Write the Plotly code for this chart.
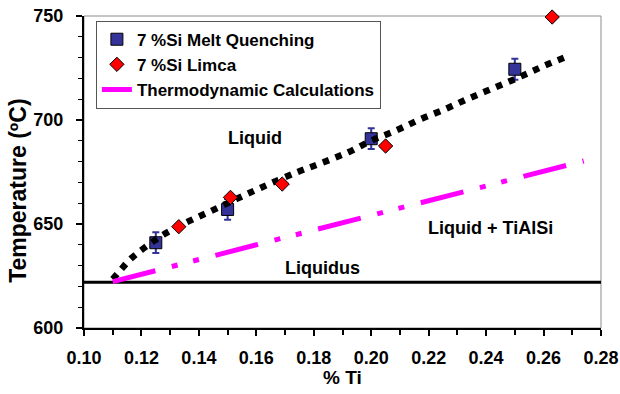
import plotly.graph_objects as go

# Melt quenching (blue squares with error bars)
mq_ti = [0.125, 0.150, 0.200, 0.250]
mq_temp = [641, 657, 691, 724.4]
mq_err = [5, 5, 5, 5]

# Limca (red diamonds)
lim_ti = [0.133, 0.151, 0.169, 0.205, 0.263]
lim_temp = [648.7, 662.8, 669.2, 687.5, 749.5]

trend_ti = [0.110, 0.113, 0.116, 0.120, 0.124, 0.128, 0.136, 0.144, 0.153, 0.162,
            0.174, 0.183, 0.192, 0.200, 0.209, 0.217, 0.226, 0.234, 0.243, 0.252,
            0.260, 0.269]
trend_temp = [623.5, 628.3, 632.9, 637.5, 641.5, 645.2, 651, 656.1, 662, 667.7,
              674.8, 679.5, 684.5, 690, 695.2, 700.3, 705.4, 710.4, 715.6, 720.9,
              725.9, 731]

# Thermodynamic calculations
thermo_ti = [0.110, 0.274]
thermo_temp = [622.3, 680.3]

# Liquidus
liquidus_ti = [0.10, 0.28]
liquidus_temp = [622, 622]

x_ticks = [0.10, 0.12, 0.14, 0.16, 0.18, 0.20, 0.22, 0.24, 0.26, 0.28]
y_ticks = [600, 650, 700, 750]

FONT = "Liberation Sans, Arial, sans-serif"

fig = go.Figure()

fig.add_trace(go.Scatter(
    x=liquidus_ti, y=liquidus_temp, mode="lines",
    line=dict(color="black", width=3), showlegend=False, hoverinfo="skip"))

fig.add_trace(go.Scatter(
    x=mq_ti, y=mq_temp, mode="markers", name="7 %Si Melt Quenching",
    marker=dict(symbol="square", size=12, color="#333399",
                line=dict(color="black", width=1)),
    error_y=dict(type="data", array=mq_err, visible=True, color="#333399",
                 thickness=2, width=3.5),
    cliponaxis=False, legendrank=1))

fig.add_trace(go.Scatter(
    x=trend_ti, y=trend_temp, mode="lines", line_shape="spline",
    line=dict(color="black", width=6.5, dash="6.5px,7px"),
    showlegend=False, hoverinfo="skip"))

fig.add_trace(go.Scatter(
    x=lim_ti, y=lim_temp, mode="markers", name="7 %Si Limca",
    marker=dict(symbol="diamond", size=11, color="#FF0000",
                line=dict(color="black", width=1)),
    cliponaxis=False, legendrank=2))

fig.add_trace(go.Scatter(
    x=thermo_ti, y=thermo_temp, mode="lines", name="Thermodynamic Calculations",
    line=dict(color="#FF00FF", width=5, dash="44px,17px,6px,16px,6px,17px"),
    legendrank=3))

annots = [
    ("Liquid", 0.1594, 691.3),
    ("Liquid + TiAlSi", 0.2416, 648.0),
    ("Liquidus", 0.1831, 628.8),
]
for text, ax, ay in annots:
    fig.add_annotation(x=ax, y=ay, text=text, showarrow=False,
                       font=dict(family=FONT, size=18, color="black", weight="bold"))

# axis titles as annotations (placed like the original)
fig.add_annotation(xref="paper", yref="paper", x=-0.1275, y=0.44,
                   text="Temperature (ºC)", textangle=-90, showarrow=False,
                   xanchor="center", yanchor="middle",
                   font=dict(family=FONT, size=23, color="black", weight="bold"))
fig.add_annotation(xref="paper", yref="paper", x=0.5, y=-0.16,
                   text="% Ti", showarrow=False,
                   xanchor="center", yanchor="middle",
                   font=dict(family=FONT, size=19, color="black", weight="bold"))

# gray frame (top/right)
fig.add_shape(type="rect", xref="paper", yref="paper", x0=0, y0=0, x1=1, y1=1,
              line=dict(color="#8c8c8c", width=1), layer="below")

fig.update_layout(
    width=620, height=394,
    margin=dict(l=84, r=19, t=16, b=66),
    paper_bgcolor="white", plot_bgcolor="white",
    font=dict(family=FONT, size=18, color="black", weight="bold"),
    showlegend=True,
    legend=dict(x=0.023, y=0.985, xanchor="left", yanchor="top",
                bgcolor="white", bordercolor="#555555", borderwidth=1,
                font=dict(family=FONT, size=17, color="black", weight="bold"),
                tracegroupgap=0, itemwidth=30),
    xaxis=dict(range=[0.10, 0.28], tickvals=x_ticks,
               ticktext=[f"{v:.2f}" for v in x_ticks],
               automargin=False, ticklabeloverflow="allow",
               showgrid=False, zeroline=False,
               showline=True, linecolor="black", linewidth=2,
               ticks="outside", ticklen=6, tickwidth=2, tickcolor="black",
               ticklabelstandoff=6,
               minor=dict(dtick=0.01, ticks="outside", ticklen=5, tickwidth=1.5,
                          tickcolor="black", showgrid=False),
               tickfont=dict(size=18)),
    yaxis=dict(range=[600, 750], tickvals=y_ticks,
               automargin=False, ticklabeloverflow="allow",
               showgrid=False, zeroline=False,
               showline=True, linecolor="black", linewidth=2,
               ticks="outside", ticklen=6, tickwidth=2, tickcolor="black",
               ticklabelstandoff=9,
               minor=dict(dtick=10, ticks="outside", ticklen=4, tickwidth=1,
                          tickcolor="black", showgrid=False),
               tickfont=dict(size=18)),
)

# remove the page's default body margin so the figure fills the window exactly
fig.write_html("out.html",
               config={"displayModeBar": False},
               post_script="document.body.style.margin='0';"
                           "document.body.style.overflow='hidden';")
